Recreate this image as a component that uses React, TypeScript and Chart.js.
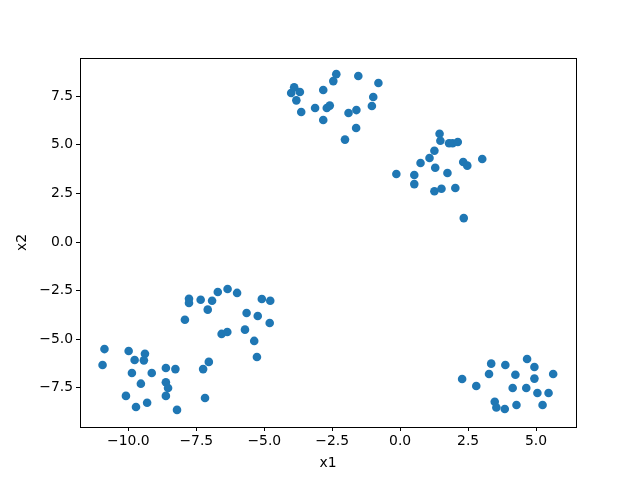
import React, { useEffect, useRef } from "react";
import { Chart, registerables } from "chart.js";

Chart.register(...registerables);

// Scatter data (x1, x2)
const x1Values: number[] = [
  // upper-left cluster
  -4.01, -3.9, -3.69, -3.82, -3.64, -3.13, -2.83, -2.83, -2.7, -2.59, -2.46, -2.35, -2.03, -1.9, -1.61, -1.62, -1.54, -1.04, -0.99, -0.8,
  // upper-right cluster
  -0.14, 0.52, 0.52, 0.75, 1.08, 1.26, 1.29, 1.26, 1.52, 1.45, 1.48, 1.74, 1.8, 1.93, 2.12, 2.03, 2.32, 2.47, 2.34, 3.02,
  // middle-left cluster
  -7.92, -7.77, -7.77, -7.34, -7.08, -6.92, -6.71, -6.35, -6.0, -6.57, -6.36, -5.65, -5.24, -5.71, -5.37, -5.27, -5.09, -4.78, -4.8, -7.04, -7.25, -7.18,
  // lower-left cluster
  -10.88, -10.95, -9.99, -9.77, -9.39, -9.43, -9.87, -9.14, -9.54, -8.62, -8.27, -8.62, -8.54, -8.62, -10.09, -9.72, -9.31, -8.21,
  // lower-right cluster
  2.28, 2.8, 3.35, 3.27, 3.87, 3.48, 3.54, 3.85, 4.14, 4.24, 4.28, 4.67, 4.64, 4.94, 4.94, 5.05, 5.24, 5.46, 5.63,
];
const x2Values: number[] = [
  7.67, 7.96, 7.72, 7.29, 6.69, 6.9, 7.82, 6.28, 6.9, 7.02, 8.28, 8.64, 5.27, 6.64, 6.79, 5.87, 8.54, 7.0, 7.46, 8.18,
  3.5, 3.45, 2.98, 4.07, 4.32, 4.7, 3.82, 2.61, 2.74, 5.57, 5.21, 3.55, 5.08, 5.08, 5.15, 2.78, 4.12, 3.93, 1.23, 4.27,
  -4.0, -2.92, -3.14, -2.97, -3.48, -3.02, -2.57, -2.42, -2.62, -4.73, -4.63, -3.65, -3.81, -4.51, -5.09, -5.92, -2.93, -3.02, -4.17, -6.17, -6.54, -8.03,
  -5.51, -6.33, -5.61, -6.07, -5.75, -6.09, -6.74, -6.74, -7.29, -6.48, -6.54, -7.22, -7.51, -7.92, -7.92, -8.49, -8.27, -8.64,
  -7.05, -7.41, -6.26, -6.79, -6.33, -8.22, -8.52, -8.59, -7.51, -6.83, -8.39, -6.02, -7.51, -6.43, -7.03, -7.77, -8.39, -7.77, -6.79,
];

const xTicks: number[] = [-10, -7.5, -5, -2.5, 0, 2.5, 5];
const yTicks: number[] = [-7.5, -5, -2.5, 0, 2.5, 5, 7.5];
const xLabel = "x1";
const yLabel = "x2";

const fmt = (v: number) => v.toFixed(1).replace("-", "\u2212");
const FONT = { family: "'DejaVu Sans', sans-serif", size: 13.9 };

const framePlugin = {
  id: "frame",
  afterDraw(chart: any) {
    const { ctx, chartArea } = chart;
    ctx.save();
    ctx.strokeStyle = "#000";
    ctx.lineWidth = 1;
    ctx.strokeRect(
      Math.round(chartArea.left) + 0.5,
      Math.round(chartArea.top) + 0.5,
      Math.round(chartArea.right - chartArea.left),
      Math.round(chartArea.bottom - chartArea.top)
    );
    ctx.restore();
  },
};

export default function App() {
  const ref = useRef<HTMLCanvasElement | null>(null);

  useEffect(() => {
    if (!ref.current) return;
    const points = x1Values.map((x, i) => ({ x, y: x2Values[i] }));
    const chart = new Chart(ref.current, {
      type: "scatter",
      data: {
        datasets: [
          {
            data: points,
            backgroundColor: "#1f77b4",
            borderWidth: 0,
            pointRadius: 4.3,
            pointHoverRadius: 4.3,
          },
        ],
      },
      options: {
        responsive: false,
        animation: false,
        layout: { padding: { top: 58, right: 64, left: 0, bottom: 0 } },
        plugins: { legend: { display: false }, tooltip: { enabled: false } },
        scales: {
          x: {
            type: "linear",
            min: -11.78,
            max: 6.47,
            afterBuildTicks: (scale: any) => {
              scale.ticks = xTicks.map((v) => ({ value: v }));
            },
            afterFit: (scale: any) => {
              scale.height = 53;
            },
            ticks: {
              color: "#000",
              font: FONT,
              padding: 2,
              maxRotation: 0,
              autoSkip: false,
              callback: (v: any) => fmt(Number(v)),
            },
            grid: { drawOnChartArea: false, drawTicks: true, tickLength: 4, tickColor: "#000", color: "#000" },
            border: { display: false },
            title: { display: true, text: xLabel, color: "#000", font: FONT, padding: { top: 0, bottom: 8 } },
          },
          y: {
            type: "linear",
            min: -9.52,
            max: 9.47,
            afterBuildTicks: (scale: any) => {
              scale.ticks = yTicks.map((v) => ({ value: v }));
            },
            afterFit: (scale: any) => {
              scale.width = 80;
            },
            ticks: {
              color: "#000",
              font: FONT,
              padding: 3,
              autoSkip: false,
              callback: (v: any) => fmt(Number(v)),
            },
            grid: { drawOnChartArea: false, drawTicks: true, tickLength: 4, tickColor: "#000", color: "#000" },
            border: { display: false },
            title: { display: true, text: yLabel, color: "#000", font: FONT, padding: { top: 14, bottom: 0 } },
          },
        },
      },
      plugins: [framePlugin],
    } as any);
    return () => chart.destroy();
  }, []);

  return (
    <div style={{ position: "absolute", left: 0, top: 0, width: 640, height: 480, background: "#fff" }}>
      <canvas ref={ref} width={640} height={480} />
    </div>
  );
}
